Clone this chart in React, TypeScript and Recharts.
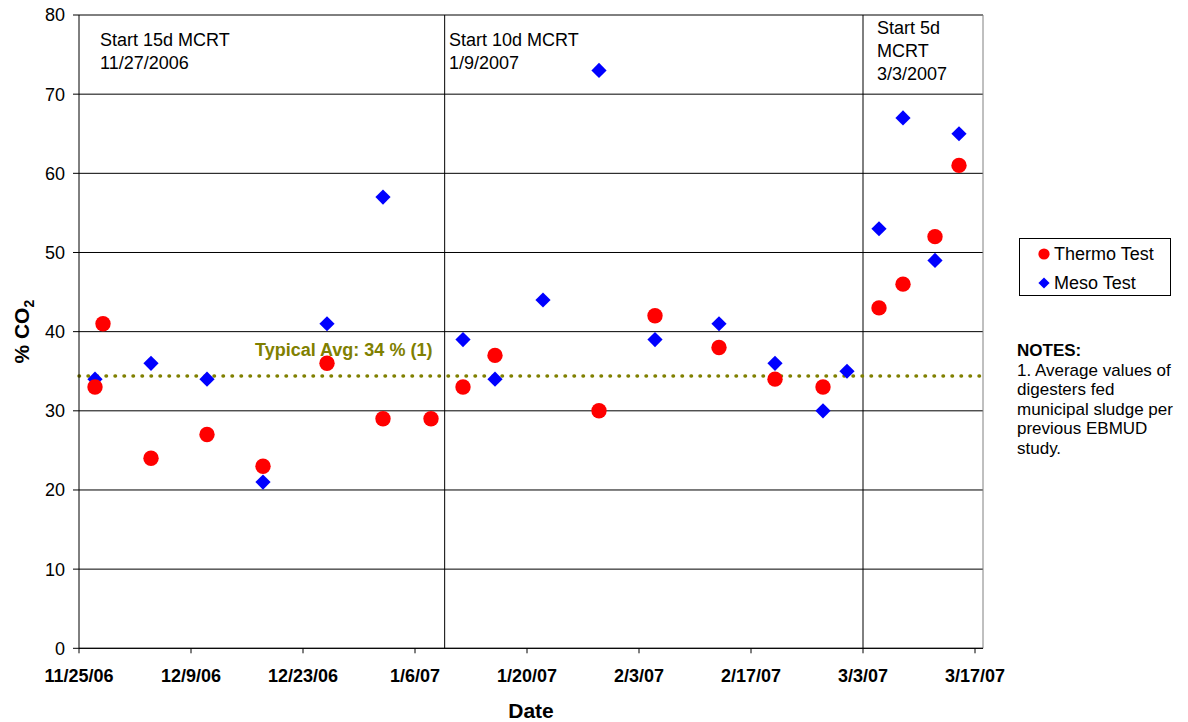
import React from "react"
import {
  ScatterChart,
  Scatter,
  XAxis,
  YAxis,
  CartesianGrid,
  ReferenceLine,
  Label,
} from "recharts"

// ── Data ──────────────────────────────────────────────────────────────────────
const thermoDates = [
  "2006-11-27", "2006-11-28", "2006-12-04", "2006-12-11", "2006-12-18",
  "2006-12-26", "2007-01-02", "2007-01-08", "2007-01-12", "2007-01-16",
  "2007-01-29", "2007-02-05", "2007-02-13", "2007-02-20", "2007-02-26",
  "2007-03-05", "2007-03-08", "2007-03-12", "2007-03-15",
]
const thermoValues = [33, 41, 24, 27, 23, 36, 29, 29, 33, 37, 30, 42, 38, 34, 33, 43, 46, 52, 61]

const mesoDates = [
  "2006-11-27", "2006-12-04", "2006-12-11", "2006-12-18", "2006-12-26",
  "2007-01-02", "2007-01-12", "2007-01-16", "2007-01-22", "2007-01-29",
  "2007-02-05", "2007-02-13", "2007-02-20", "2007-02-26", "2007-03-01",
  "2007-03-05", "2007-03-08", "2007-03-12", "2007-03-15",
]
const mesoValues = [34, 36, 34, 21, 41, 57, 39, 34, 44, 73, 39, 41, 36, 30, 35, 53, 67, 49, 65]

const seriesNames = ["Thermo Test", "Meso Test"]

const xTickDates = [
  "2006-11-25", "2006-12-09", "2006-12-23", "2007-01-06", "2007-01-20",
  "2007-02-03", "2007-02-17", "2007-03-03", "2007-03-17",
]
const xDomainDates = ["2006-11-25", "2007-03-18"]
const yTicks = [0, 10, 20, 30, 40, 50, 60, 70, 80]

const typicalAvg = 34.4
const typicalAvgLabel = "Typical Avg: 34 % (1)"

const phaseDates = ["2006-11-27", "2007-01-09", "2007-03-03"]
const phaseLabels = [
  ["Start 15d MCRT", "11/27/2006"],
  ["Start 10d MCRT", "1/9/2007"],
  ["Start 5d", "MCRT", "3/3/2007"],
]
const dividerDates = ["2007-01-09T17:00:00Z", "2007-03-03T00:00:00Z"]

const notesTitle = "NOTES:"
const notesLines = [
  "1. Average values of",
  "digesters fed",
  "municipal sludge per",
  "previous EBMUD",
  "study.",
]

// ── Helpers ───────────────────────────────────────────────────────────────────
const FONT = "'Liberation Sans', Arial, sans-serif"
const ts = (d: string) => Date.parse(d)
const fmtDate = (v: number) => {
  const d = new Date(v)
  return `${d.getUTCMonth() + 1}/${d.getUTCDate()}/${String(d.getUTCFullYear()).slice(2)}`
}

const thermoData = thermoDates.map((d, i) => ({ x: ts(d), y: thermoValues[i] }))
const mesoData = mesoDates.map((d, i) => ({ x: ts(d), y: mesoValues[i] }))
const xTicks = xTickDates.map(ts)
const xDomain = xDomainDates.map(ts)

const RedDot = (p: any) => <circle cx={p.cx} cy={p.cy} r={7.7} fill="#FF0000" />
const BlueDiamond = (p: any) => {
  const s = 7.6
  return (
    <polygon
      points={`${p.cx},${p.cy - s} ${p.cx + s},${p.cy} ${p.cx},${p.cy + s} ${p.cx - s},${p.cy}`}
      fill="#0000FF"
    />
  )
}

// per-phase text placement (offset from phase date, first baseline)
const phaseDx = [5, 10, 14]
const phaseBaseline = [46, 46, 34]

const phaseLabel = (i: number) => (props: any) => {
  const vb = props.viewBox
  return (
    <text x={vb.x + phaseDx[i]} y={phaseBaseline[i]} fontSize={18} fontFamily={FONT} fill="#000">
      {phaseLabels[i].map((line, j) => (
        <tspan key={j} x={vb.x + phaseDx[i]} dy={j === 0 ? 0 : 23}>
          {line}
        </tspan>
      ))}
    </text>
  )
}

export default function App() {
  return (
    <div style={{ position: "relative", width: 1188, height: 722, background: "#fff", fontFamily: FONT }}>
      <style>{"body{margin:0}"}</style>
      <ScatterChart width={1188} height={722} margin={{ top: 15, right: 205, bottom: 33.7, left: 9 }}>
        <CartesianGrid vertical={false} stroke="#000" />
        <XAxis
          type="number"
          dataKey="x"
          domain={xDomain}
          ticks={xTicks}
          tickFormatter={fmtDate}
          allowDataOverflow
          height={40}
          tickSize={5}
          tickMargin={16}
          axisLine={{ stroke: "#000" }}
          tickLine={{ stroke: "#000" }}
          tick={{ fill: "#000", fontSize: 18, fontWeight: "bold", fontFamily: FONT }}
        >
          <Label
            content={(p: any) => (
              <text
                x={p.viewBox.x + p.viewBox.width / 2}
                y={p.viewBox.y + 70}
                textAnchor="middle"
                fontSize={21}
                fontWeight="bold"
                fontFamily={FONT}
                fill="#000"
              >
                Date
              </text>
            )}
          />
        </XAxis>
        <YAxis
          type="number"
          dataKey="y"
          domain={[0, 80]}
          ticks={yTicks}
          width={70}
          tickSize={6}
          tickMargin={8}
          axisLine={{ stroke: "#000" }}
          tickLine={{ stroke: "#000" }}
          tick={{ fill: "#000", fontSize: 18, fontFamily: FONT }}
        >
          <Label
            content={(p: any) => {
              const cx = p.viewBox.x + 20
              const cy = p.viewBox.y + p.viewBox.height / 2
              return (
                <text
                  x={cx}
                  y={cy}
                  transform={`rotate(-90, ${cx}, ${cy})`}
                  textAnchor="middle"
                  fontSize={21}
                  fontWeight="bold"
                  fontFamily={FONT}
                  fill="#000"
                >
                  % CO
                  <tspan fontSize={14} dy={5}>2</tspan>
                </text>
              )
            }}
          />
        </YAxis>

        <ReferenceLine y={80} stroke="#808080" />
        <ReferenceLine x={xDomain[1]} stroke="#808080" />
        {dividerDates.map((d) => (
          <ReferenceLine key={d} x={ts(d)} stroke="#000" />
        ))}
        {phaseDates.map((d, i) => (
          <ReferenceLine key={d} x={ts(d)} stroke="none">
            <Label content={phaseLabel(i)} />
          </ReferenceLine>
        ))}
        <ReferenceLine
          y={typicalAvg}
          stroke="#808000"
          strokeWidth={3.5}
          strokeDasharray="0.5 8.5"
          strokeLinecap="round"
        >
          <Label
            content={(p: any) => (
              <text
                x={p.viewBox.x + 176}
                y={p.viewBox.y - 20}
                fontSize={18}
                fontWeight="bold"
                fontFamily={FONT}
                fill="#808000"
              >
                {typicalAvgLabel}
              </text>
            )}
          />
        </ReferenceLine>

        <Scatter name={seriesNames[1]} data={mesoData} shape={BlueDiamond} isAnimationActive={false} />
        <Scatter name={seriesNames[0]} data={thermoData} shape={RedDot} isAnimationActive={false} />
      </ScatterChart>

      {/* legend */}
      <div
        style={{
          position: "absolute",
          left: 1019,
          top: 238,
          width: 150,
          height: 56,
          border: "1px solid #000",
          fontSize: 18,
          color: "#000",
        }}
      >
        {seriesNames.map((name, i) => (
          <div key={name} style={{ position: "absolute", left: 0, top: 4 + i * 29, height: 22, display: "flex", alignItems: "center" }}>
            <svg width={34} height={22} style={{ display: "block" }}>
              {i === 0 ? (
                <circle cx={24} cy={11} r={5.6} fill="#FF0000" />
              ) : (
                <polygon points="24,5.4 29.6,11 24,16.6 18.4,11" fill="#0000FF" />
              )}
            </svg>
            <span style={{ lineHeight: "22px", whiteSpace: "nowrap" }}>{name}</span>
          </div>
        ))}
      </div>

      {/* notes */}
      <div style={{ position: "absolute", left: 1017, top: 341, fontSize: 17, lineHeight: "19.5px", color: "#000" }}>
        <div style={{ fontWeight: "bold" }}>{notesTitle}</div>
        {notesLines.map((l) => (
          <div key={l} style={{ whiteSpace: "nowrap" }}>{l}</div>
        ))}
      </div>
    </div>
  )
}
